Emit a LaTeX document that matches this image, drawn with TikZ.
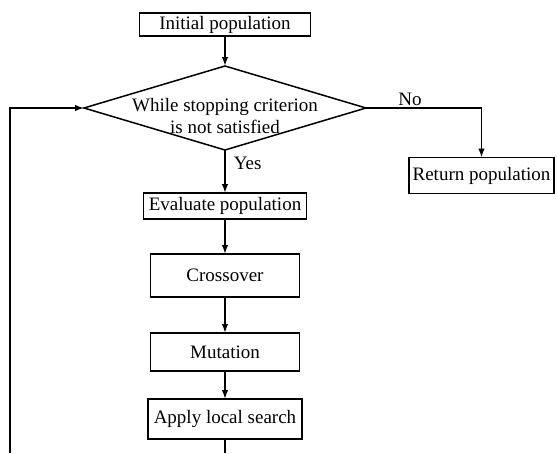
\documentclass[tikz,border=0pt]{standalone}
\usepackage{fontspec}
\setmainfont{Liberation Serif}
\usetikzlibrary{arrows.meta,positioning,shapes.geometric}

\begin{document}
\begin{tikzpicture}[
	> = {Latex[length=9pt,width=6.5pt]}, % arrow head style
	line width = 1.5pt, % line style
	font = \fontsize{19}{22}\selectfont,
	box/.style={rectangle, draw=black, inner sep=1pt, outer sep=0pt, align=center},
	decision/.style={diamond, draw=black, inner sep=0pt, outer sep=0pt, minimum width=282pt, minimum height=84pt},
	condtext/.style={align=center, inner sep=0pt, yshift=-8pt},
	]

	\useasboundingbox (0,0) rectangle (557pt,-453pt);

	% Nodes and their relative positions
	\node[box, minimum width=171pt, minimum height=23pt] (init) at (225pt,-24.5pt) {Initial population};
	\node[decision, below = 30pt of init, label={[condtext]center:While stopping criterion\\is not satisfied}] (cond) {};
	\node[box, minimum width=163pt, minimum height=26pt] (eval) [below = 43pt of cond] {Evaluate population};
	\node[box, minimum width=149pt, minimum height=43pt] (cross) [below = 35pt of eval] {Crossover};
	\node[box, minimum width=149pt, minimum height=38pt] (mut) [below = 36pt of cross] {Mutation};
	\node[box, minimum width=154pt, minimum height=40pt] (search) [below = 28pt of mut] {Apply local search};
	\node[box, minimum width=145pt, minimum height=36pt] (ret) at (481.5pt,-175.5pt) {Return population};

	% Loose ends at the bottom edge
	\coordinate (searchout) at (search.south |- 0,-453pt);
	\coordinate (loopin) at (10pt,-453pt);

	% Paths connecting nodes
	\draw[->] (init) -- (cond);
	\draw[->] (cond.east) -| node[above, pos=0.19, inner sep=2pt] {No} (ret.north);
	\draw[->] (cond) -- node[right, pos=0.3, inner sep=8pt] {Yes} (eval);
	\draw[->] (eval) -- (cross);
	\draw[->] (cross) -- (mut);
	\draw[->] (mut) -- (search);
	\draw (search) -- (searchout);
	\draw[->] (loopin) |- (cond.west);

\end{tikzpicture}
\end{document}
